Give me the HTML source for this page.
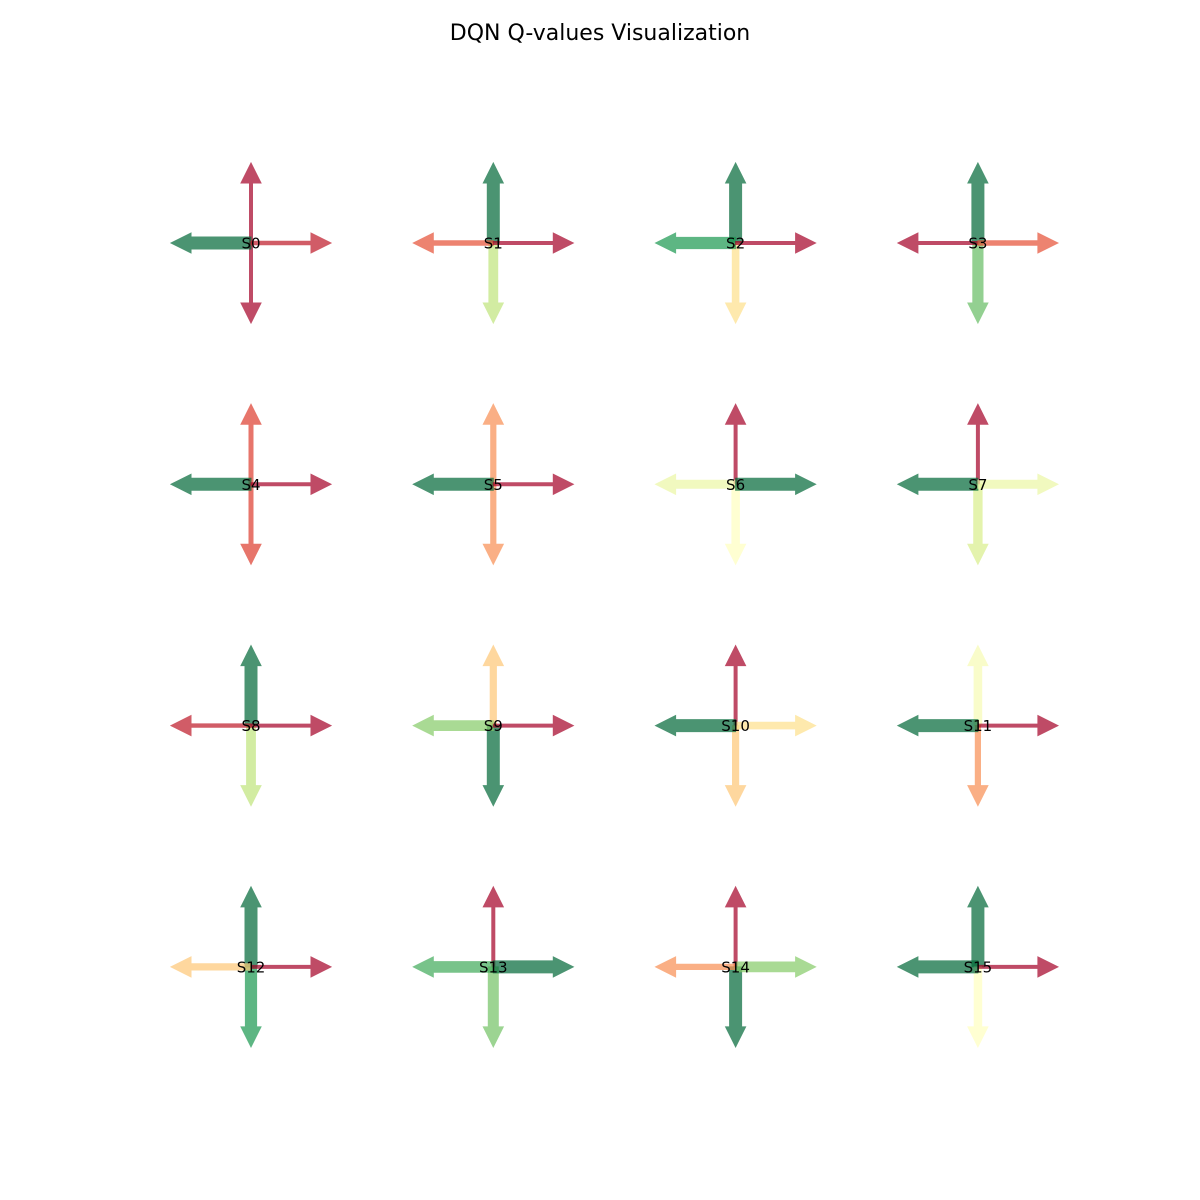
<!DOCTYPE html>
<html><head><meta charset="utf-8"><style>
body{margin:0;background:#fff}
svg{display:block}
text{font-family:"DejaVu Sans","Liberation Sans",sans-serif}
</style></head><body>
<svg id="chart" width="1200" height="1200" viewBox="0 0 1200 1200">
<text x="600" y="40" text-anchor="middle" font-size="22">DQN Q-values Visualization</text>
<g id="arrows"></g>
<g id="labels"></g>
</svg>
<script>
const states = ["S0","S1","S2","S3","S4","S5","S6","S7","S8","S9","S10","S11","S12","S13","S14","S15"];
const qUp    = [0,1,1,1,0.12,0.25,0,0,1,0.35,0,0.52,1,0,0,1];
const qDown  = [0,0.65,0.4,0.8,0.12,0.25,0.5,0.6,0.65,1,0.35,0.25,0.9,0.78,1,0.5];
const qLeft  = [1,0.15,0.9,0,1,1,0.55,1,0.05,0.75,1,1,0.35,0.85,0.25,1];
const qRight = [0.05,0,0,0.15,0,0,1,0.55,0,0,0.4,0,0,1,0.75,0];

const stops=["#a50026","#d73027","#f46d43","#fdae61","#fee08b","#ffffbf","#d9ef8b","#a6d96a","#66bd63","#1a9850","#006837"];
function hex(h){return [1,3,5].map(i=>parseInt(h.substr(i,2),16));}
function cmap(v){v=Math.max(0,Math.min(1,v));const p=v*10,i=Math.min(9,Math.floor(p)),t=p-i;
 const a=hex(stops[i]),b=hex(stops[i+1]);return "rgb("+a.map((c,k)=>Math.round(c+(b[k]-c)*t)).join(",")+")";}
const col=i=>251+(i%4)*242.3, row=i=>243+Math.floor(i/4)*241.3;
const NS="http://www.w3.org/2000/svg";
const g=document.getElementById("arrows"), lg=document.getElementById("labels");
const dirs=[["up",0,-1,qUp],["down",0,1,qDown],["left",-1,0,qLeft],["right",1,0,qRight]];
function arrow(cx,cy,dx,dy,v){
 const L=80,H=20,HW=10,w=(3+9*v)/2;
 const px=-dy,py=dx;
 return [[0,w],[L-H,w],[L-H,HW],[L,0],[L-H,-HW],[L-H,-w],[0,-w]]
  .map(([a,b])=>(cx+dx*a+px*b).toFixed(1)+","+(cy+dy*a+py*b).toFixed(1)).join(" ");
}
states.forEach((s,i)=>{
 const cx=col(i),cy=row(i);
 dirs.forEach(([n,dx,dy,arr])=>{
  const p=document.createElementNS(NS,"polygon");
  p.setAttribute("points",arrow(cx,cy,dx,dy,arr[i]));
  const c=cmap(arr[i]);
  p.setAttribute("fill",c);p.setAttribute("stroke",c);p.setAttribute("stroke-width","1");
  p.setAttribute("opacity","0.7");
  
  
  g.appendChild(p);
 });
 const t=document.createElementNS(NS,"text");
 t.setAttribute("x",cx);t.setAttribute("y",cy+5.5);t.setAttribute("text-anchor","middle");t.setAttribute("font-size","15");
 t.textContent=s;
 
 
 lg.appendChild(t);
});
</script>
</body></html>
